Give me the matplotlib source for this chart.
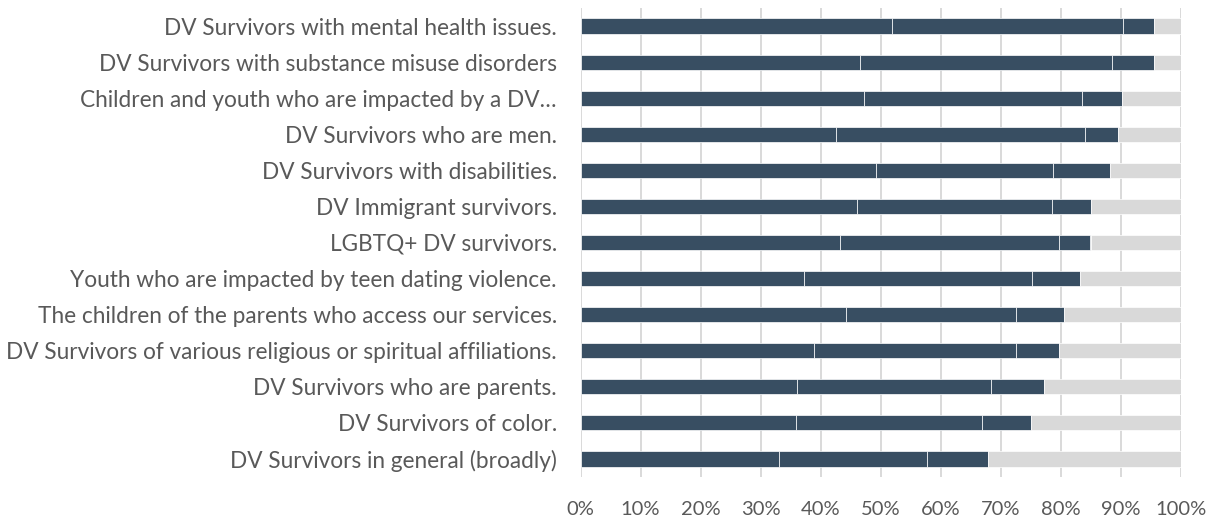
import matplotlib.pyplot as plt
import numpy as np

# categories, top to bottom as shown
labels = [
    "DV Survivors with mental health issues.",
    "DV Survivors with substance misuse disorders",
    "Children and youth who are impacted by a DV\u2026",
    "DV Survivors who are men.",
    "DV Survivors with disabilities.",
    "DV Immigrant survivors.",
    "LGBTQ+ DV survivors.",
    "Youth who are impacted by teen dating violence.",
    "The children of the parents who access our services.",
    "DV Survivors of various religious or spiritual affiliations.",
    "DV Survivors who are parents.",
    "DV Survivors of color.",
    "DV Survivors in general (broadly)",
]

# stacked shares (%), same order as labels
seg1 = [51.9, 46.5, 47.3, 42.5, 49.2, 46.1, 43.3, 37.2, 44.2, 38.9, 36.1, 35.9, 33.1]
seg2 = [38.5, 42.0, 36.2, 41.6, 29.5, 32.5, 36.4, 38.0, 28.3, 33.6, 32.3, 31.0, 24.7]
seg3 = [5.2, 7.1, 6.8, 5.4, 9.6, 6.4, 5.3, 8.0, 8.0, 7.2, 8.9, 8.1, 10.1]
seg4 = [4.4, 4.4, 9.7, 10.5, 11.7, 15.0, 15.0, 16.8, 19.5, 20.3, 22.7, 25.0, 32.1]

xticks = [0, 10, 20, 30, 40, 50, 60, 70, 80, 90, 100]

dark = "#384e62"
light = "#d9d9d9"
text_color = "#595959"

plt.rcParams["font.family"] = ["Lato", "DejaVu Sans"]

fig = plt.figure(figsize=(12.14, 5.19), dpi=100)
ax = fig.add_axes([580.5 / 1214, 1 - 477 / 519, 600 / 1214, 469 / 519])

y = np.arange(len(labels))[::-1]
h = 0.42
left = np.zeros(len(labels))
for vals, col in [(seg1, dark), (seg2, dark), (seg3, dark), (seg4, light)]:
    ax.barh(y, vals, h, left=left, color=col, edgecolor="white", linewidth=0.5, zorder=3)
    left += np.array(vals)

ax.set_xlim(0, 100)
ax.set_ylim(-0.5, len(labels) - 0.5)
ax.set_xticks(xticks)
ax.set_xticklabels([f"{t}%" for t in xticks])
ax.set_yticks(y)
ax.set_yticklabels(labels)
ax.grid(axis="x", color=light, linewidth=1.4, zorder=0)
for s in ax.spines.values():
    s.set_visible(False)
ax.tick_params(axis="both", length=0, colors=text_color)
ax.tick_params(axis="y", pad=17, labelsize=16.3)
ax.tick_params(axis="x", pad=17, labelsize=14.5)

fig.savefig("out.png", dpi=100)
